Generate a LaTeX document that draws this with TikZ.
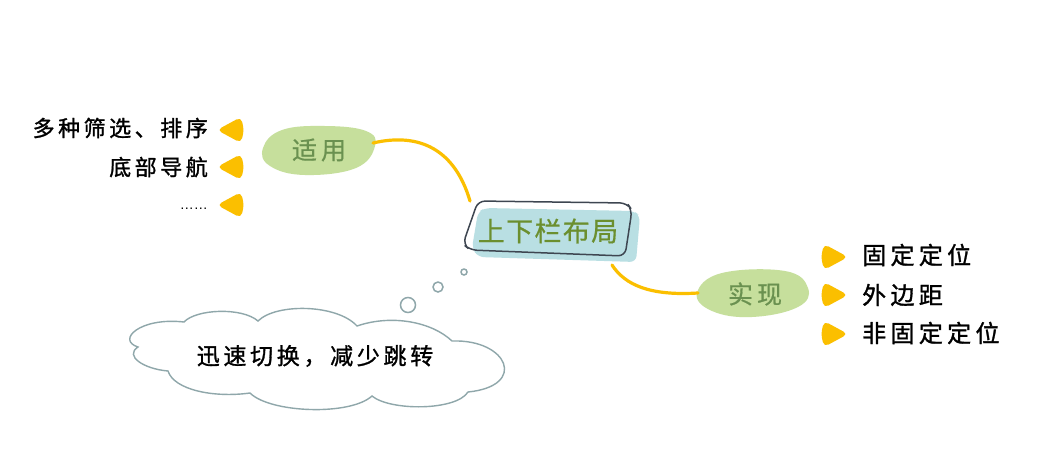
\documentclass[tikz,border=0pt]{standalone}
\usepackage{fontspec}
\setmainfont{Noto Sans CJK SC}
\newfontfamily\leaffont[LetterSpace=16,FakeBold=1.2]{Noto Sans CJK SC}
\newfontfamily\rightfont[LetterSpace=18,FakeBold=1.2]{Noto Sans CJK SC}
\newfontfamily\blobfont[LetterSpace=16,FakeBold=0.6]{Noto Sans CJK SC}
\newfontfamily\midfont[LetterSpace=5,FakeBold=0.6]{Noto Sans CJK SC}
\newfontfamily\latinfont{Liberation Sans}
\definecolor{ylw}{HTML}{FBBF00}
\definecolor{blobgreen}{HTML}{C6DF9C}
\definecolor{blobtext}{HTML}{6A9150}
\definecolor{midtext}{HTML}{6B8F2E}
\definecolor{midblue}{HTML}{B9DFE3}
\definecolor{outl}{HTML}{3E4651}
\definecolor{cloudc}{HTML}{8FA7AA}
\tikzset{
  conn/.style={draw=ylw, line width=3.2pt, line cap=round},
  lmark/.pic={\fill[ylw, rounded corners=5pt] (-14,0) -- (10,-13) -- (13,0) -- (10,13) -- cycle;},
  rmark/.pic={\fill[ylw, rounded corners=5pt] (14,0) -- (-10,-13) -- (-13,0) -- (-10,13) -- cycle;},
  lefttext/.style={anchor=east, inner sep=0pt, font=\leaffont\fontsize{22}{26}\selectfont, text=black},
  righttext/.style={anchor=west, inner sep=0pt, font=\rightfont\fontsize{24}{28}\selectfont, text=black},
  blobtxt/.style={inner sep=0pt, font=\blobfont\fontsize{25}{28}\selectfont, text=blobtext},
  bubble/.style={draw=cloudc, line width=1.5pt},
}
\begin{document}
\begin{tikzpicture}[x=1pt,y=-1pt]
\useasboundingbox (0,0) rectangle (1044,472);
\fill[white] (0,0) rectangle (1044,472);

% central topic
\fill[midblue, rounded corners=6pt] (485,208) -- (634,211) -- (640,216) -- (636,262) -- (478,257) -- (472,248) -- (478,212) -- cycle;
\draw[outl, line width=1.5pt, rounded corners=7pt] (478,201) -- (627,203) -- (632,210) -- (625,256) -- (470,250) -- (463,244) -- cycle;
\node[inner sep=0pt, font=\midfont\fontsize{27}{30}\selectfont, text=midtext] (center) at (548,231) {上下栏布局};
\coordinate (cTop) at (470,201);
\coordinate (cBot) at (612,265);

% left branch blob
\fill[blobgreen] plot[smooth cycle, tension=0.7] coordinates {(263,148) (282,130) (325,126) (366,131) (375,146) (356,168) (305,175) (270,166)};
\node[blobtxt] (use) at (319,150) {适用};
\coordinate (useR) at (373,143);

% right branch blob
\fill[blobgreen] plot[smooth cycle, tension=0.7] coordinates {(697,293) (722,273) (785,271) (808,288) (798,307) (752,317) (712,311)};
\node[blobtxt] (impl) at (755,294) {实现};
\coordinate (implL) at (698,293);

% connectors
\draw[conn] (useR) .. controls (420,132) and (455,150) .. (cTop);
\draw[conn] (cBot) .. controls (625,285) and (650,296) .. (implL);

% left leaves
\pic at (231,130) {lmark};
\pic at (231,167) {lmark};
\pic at (231,205) {lmark};
\node[lefttext] (l1) at (208,128) {多种筛选、排序};
\node[lefttext] (l2) at (208,167) {底部导航};
\node[anchor=east, inner sep=0pt, font=\latinfont\fontsize{14}{16}\selectfont] (l3) at (208,209) {……};

% right leaves
\pic at (834,257) {rmark};
\pic at (834,295) {rmark};
\pic at (834,334) {rmark};
\node[righttext] (r1) at (862,255) {固定定位};
\node[righttext] (r2) at (862,295) {外边距};
\node[righttext] (r3) at (862,333) {非固定定位};

% thought bubbles
\draw[bubble] (408,305) circle (7.5);
\draw[bubble] (438,287) circle (5);
\draw[bubble] (464,272) circle (3);

% cloud
\draw[cloudc, line width=1.4pt]
  (138,347) .. controls (116,340) and (140,317) .. (184,322)
  .. controls (196,309) and (242,307) .. (258,321)
  .. controls (276,303) and (337,304) .. (357,326)
  .. controls (392,314) and (432,322) .. (452,341)
  .. controls (508,339) and (528,386) .. (468,392)
  .. controls (456,411) and (390,411) .. (372,396)
  .. controls (350,416) and (270,413) .. (250,393)
  .. controls (214,398) and (174,390) .. (168,371)
  .. controls (144,369) and (124,356) .. cycle;
\node[inner sep=0pt, font=\leaffont\fontsize{23}{26}\selectfont] (cloudtxt) at (315,356) {迅速切换，减少跳转};
\end{tikzpicture}
\end{document}
